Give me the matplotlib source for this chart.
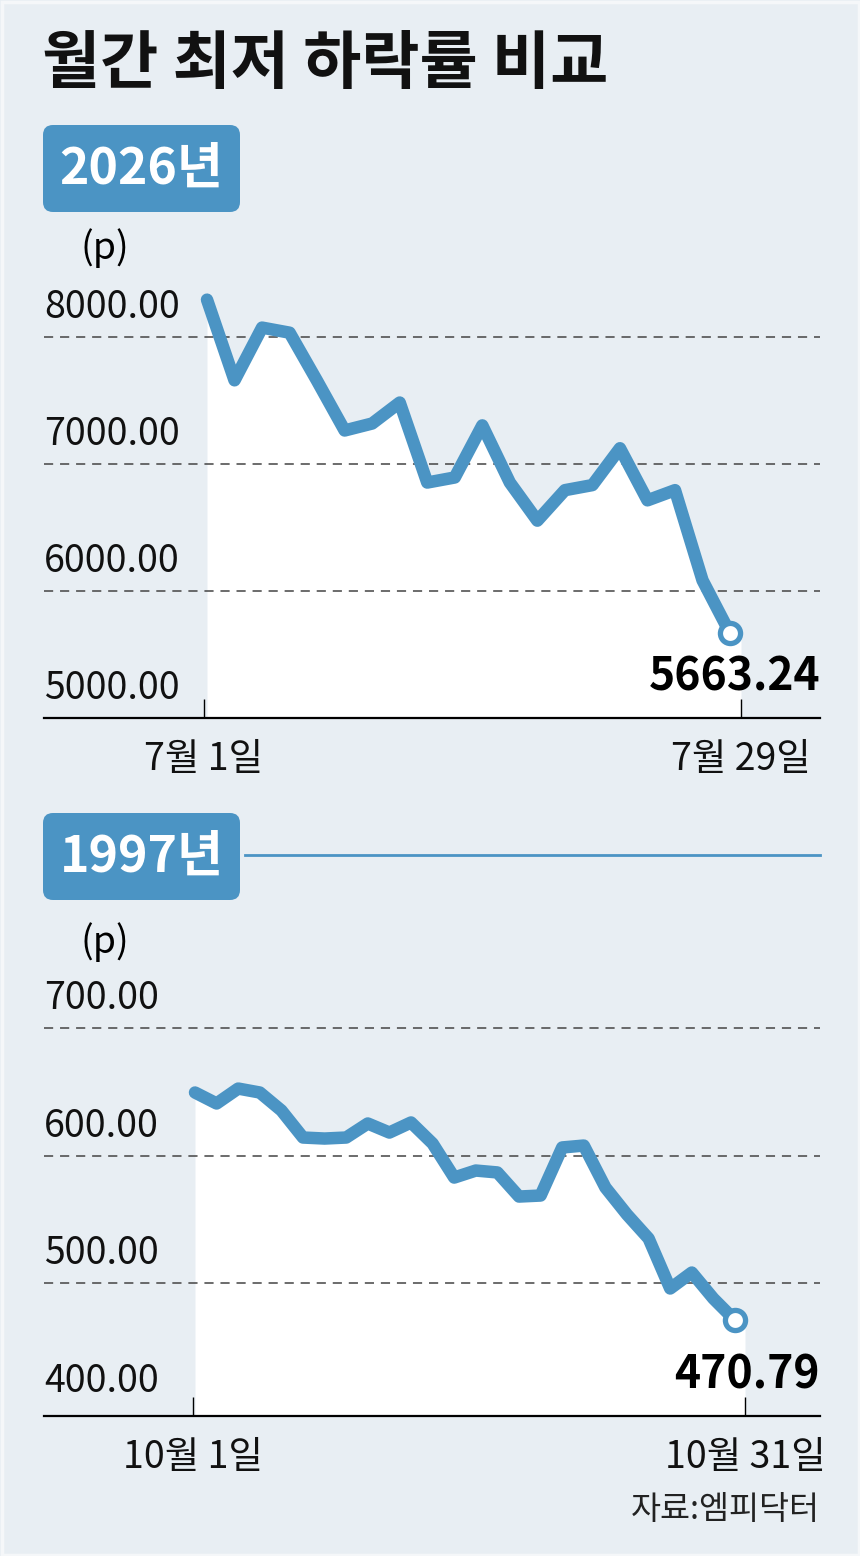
import numpy as np
import matplotlib.pyplot as plt
from matplotlib.patches import FancyBboxPatch, Rectangle

# data
top_year = '2026년'
top_values = [8290, 7655, 8070, 8030, 7650, 7260, 7315, 7480, 6850, 6890,
              7300, 6850, 6550, 6790, 6830, 7120, 6710, 6790, 6080, 5663.24]
top_ticks = ['7월 1일', '7월 29일']
top_grid = [6000, 7000, 8000]
top_ylabels = [5000, 6000, 7000, 8000]

bot_year = '1997년'
bot_values = [649.4, 640.8, 652.5, 649.4, 635.3, 614.1, 613.3, 614.1, 625.1, 618.0,
              625.9, 609.4, 582.7, 588.2, 586.7, 567.8, 568.6, 606.3, 607.8, 574.9,
              553.7, 534.9, 495.7, 508.2, 487.8, 470.79]
bot_ticks = ['10월 1일', '10월 31일']
bot_grid = [500, 600, 700]
bot_ylabels = [400, 500, 600, 700]

title = '월간 최저 하락률 비교'
unit = '(p)'
source = '자료:엠피닥터'

# colours and fonts
BG = '#e8eef3'
BLUE = '#4b94c4'
KR = ['Noto Sans CJK KR', 'DejaVu Sans']

W, H = 860, 1556
fig = plt.figure(figsize=(W / 100, H / 100), dpi=100, facecolor=BG)

# overlay in pixel coordinates for title, badges and notes
bg = fig.add_axes([0, 0, 1, 1])
bg.set_xlim(0, W)
bg.set_ylim(H, 0)
bg.set_axis_off()
bg.add_patch(Rectangle((1.5, 1.5), W - 3, H - 3, fill=False, ec='#f5f7f9', lw=2.5))

bg.text(42, 64, title, family=KR, fontsize=45.5, fontweight='bold', va='center', ha='left', color='#111111')


def badge(top, label):
    bg.add_patch(FancyBboxPatch((43 + 10, top + 10), 197 - 20, 87 - 20,
                                boxstyle='round,pad=10', fc=BLUE, ec='none'))
    bg.text(141.5, top + 44, label, family=KR, fontsize=36, fontweight='bold',
            color='white', ha='center', va='center')


badge(125, top_year)
badge(813, bot_year)
bg.plot([245, 820], [855, 855], color=BLUE, lw=2)
bg.text(105, 248, unit, family=KR, fontsize=27, ha='center', va='center')
bg.text(105, 942, unit, family=KR, fontsize=27, ha='center', va='center')
bg.text(820, 1510, source, family=KR, fontsize=23.5, ha='right', va='center', color='#222222')


def panel(values, top_px, bottom_px, x0_px, step_px, tick_px, base_val, base_px, px_per_unit,
          grid, ylabels, ticks):
    ax = fig.add_axes([44 / W, 1 - bottom_px / H, (820 - 44) / W, (bottom_px - top_px) / H])
    ax.set_facecolor('none')
    x = np.arange(len(values))
    ax.set_xlim((44 - x0_px) / step_px, (820 - x0_px) / step_px)
    ylo = base_val - (bottom_px - base_px) / px_per_unit
    yhi = base_val + (base_px - top_px) / px_per_unit
    ax.set_ylim(ylo, yhi)

    tpos = [(p - x0_px) / step_px for p in tick_px]
    # white area under the line, running to the last tick
    ax.fill_between(np.append(x, tpos[-1]), np.append(values, values[-1]), ylo,
                    color='white', lw=0, zorder=1)
    for g in grid:
        ax.axhline(g, color='#444444', lw=1.1, ls=(0, (6, 4.5)), zorder=2)
    ax.plot(x, values, color=BLUE, lw=9, solid_joinstyle='round',
            solid_capstyle='round', zorder=3)
    ax.plot(x[-1], values[-1], 'o', ms=14.5, mfc='white', mec=BLUE, mew=3.8, zorder=4)

    for v in ylabels:
        ax.annotate('%.2f' % v, xy=(0, v), xycoords=('axes fraction', 'data'),
                    xytext=(0, 13.5), textcoords='offset points',
                    ha='left', va='baseline', family=KR, fontsize=27, color='#111111')
    ax.annotate('%.2f' % values[-1], xy=(1, 0), xycoords='axes fraction',
                xytext=(0, 19.5), textcoords='offset points', ha='right', va='baseline',
                family=KR, fontsize=32, fontweight='bold', color='black', zorder=5)

    for s in ['top', 'left', 'right']:
        ax.spines[s].set_visible(False)
    ax.spines['bottom'].set_linewidth(1.6)
    ax.spines['bottom'].set_zorder(6)
    ax.set_yticks([])
    ax.set_xticks(tpos)
    ax.set_xticklabels(ticks, family=KR, fontsize=27, color='#111111')
    ax.tick_params(axis='x', direction='in', length=13.5, width=1.0, pad=16)
    return ax


panel(top_values, 280, 717.5, 207, 27.53, (204, 741), 5000, 717.5, 0.127,
      top_grid, top_ylabels, top_ticks)
panel(bot_values, 980, 1416, 195, 21.6, (193, 745), 400, 1410.5, 1.275,
      bot_grid, bot_ylabels, bot_ticks)

fig.savefig('out.png', dpi=100, facecolor=BG)
